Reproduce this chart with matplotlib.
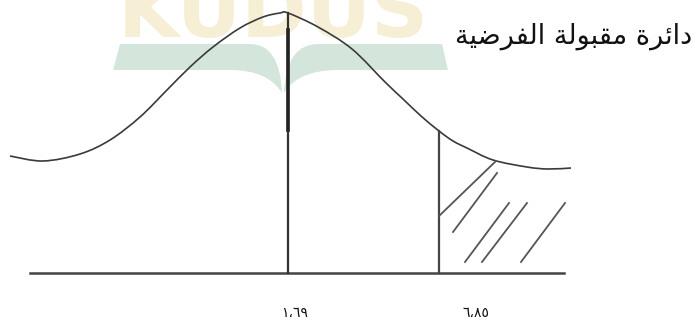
import matplotlib
matplotlib.use("Agg")
import matplotlib.pyplot as plt
from matplotlib.path import Path
from matplotlib.patches import PathPatch

# values (pixel-like units, y grows downward)
curve_x = [10, 43, 80, 110, 140, 167, 190, 213, 240, 263, 280, 288,
           318, 352, 385, 403, 421, 439, 453, 467, 493, 527, 548, 571]
curve_y = [156, 161, 154, 140, 117, 90, 67, 47, 28, 17, 13, 13,
           27, 49, 82, 99, 116, 131, 141, 148, 160, 167, 169, 168]

baseline_x = [30, 564]
baseline_y = 273

center_x = 288
center_top = 13
critical_x = 439
critical_top = 131

hatch_x0 = [439, 453, 465, 482, 521]
hatch_y0 = [216, 232, 262, 262, 262]
hatch_x1 = [496, 497, 509, 527, 565]
hatch_y1 = [161, 173, 203, 203, 203]

title = "دائرة مقبولة الفرضية"
tick_labels = ["١،٦٩", "٦،٨٥"]
tick_pos = [295, 476]

# Arabic presentation forms: isolated, final, initial, medial
FORMS = {
    "د": (0xFEA9, 0xFEAA), "ا": (0xFE8D, 0xFE8E), "ر": (0xFEAD, 0xFEAE),
    "ة": (0xFE93, 0xFE94), "و": (0xFEED, 0xFEEE),
    "ئ": (0xFE89, 0xFE8A, 0xFE8B, 0xFE8C), "م": (0xFEE1, 0xFEE2, 0xFEE3, 0xFEE4),
    "ق": (0xFED5, 0xFED6, 0xFED7, 0xFED8), "ب": (0xFE8F, 0xFE90, 0xFE91, 0xFE92),
    "ل": (0xFEDD, 0xFEDE, 0xFEDF, 0xFEE0), "ف": (0xFED1, 0xFED2, 0xFED3, 0xFED4),
    "ض": (0xFEBD, 0xFEBE, 0xFEBF, 0xFEC0), "ي": (0xFEF1, 0xFEF2, 0xFEF3, 0xFEF4),
}


def shape_arabic(text):
    """join letters with presentation forms, then reverse for left-to-right drawing"""
    out = []
    for i, ch in enumerate(text):
        if ch not in FORMS:
            out.append(ch)
            continue
        prev = text[i - 1] if i > 0 else ""
        nxt = text[i + 1] if i + 1 < len(text) else ""
        join_prev = prev in FORMS and len(FORMS[prev]) == 4
        join_next = len(FORMS[ch]) == 4 and nxt in FORMS
        f = FORMS[ch]
        if join_prev and join_next:
            code = f[3]
        elif join_prev:
            code = f[1]
        elif join_next:
            code = f[2]
        else:
            code = f[0]
        out.append(chr(code))
    return "".join(out)[::-1]


def smooth_path(xs, ys):
    """bezier path through the read points (catmull-rom style handles)"""
    pts = list(zip(xs, ys))
    verts = [pts[0]]
    codes = [Path.MOVETO]
    for i in range(len(pts) - 1):
        p0 = pts[i - 1] if i > 0 else pts[i]
        p1, p2 = pts[i], pts[i + 1]
        p3 = pts[i + 2] if i + 2 < len(pts) else pts[i + 1]
        c1 = (p1[0] + (p2[0] - p0[0]) / 6, p1[1] + (p2[1] - p0[1]) / 6)
        c2 = (p2[0] - (p3[0] - p1[0]) / 6, p2[1] - (p3[1] - p1[1]) / 6)
        verts += [c1, c2, p2]
        codes += [Path.CURVE4] * 3
    return Path(verts, codes)


def draw_watermark(ax):
    ax.text(118, 37, "KUDUS", fontsize=57, fontweight="bold", color="#f7eed6",
            ha="left", va="baseline", family="DejaVu Sans", zorder=0)
    green = "#d4e6dc"
    C, L, Q, X = Path.MOVETO, Path.LINETO, Path.CURVE3, Path.CLOSEPOLY
    left = Path([(120, 44), (250, 44), (280, 44), (282, 93), (268, 70), (230, 70),
                 (113, 70), (120, 44)],
                [C, L, Q, Q, Q, Q, L, X])
    right = Path([(442, 44), (318, 44), (286, 44), (284, 93), (298, 70), (338, 70),
                  (448, 70), (442, 44)],
                 [C, L, Q, Q, Q, Q, L, X])
    for p in (left, right):
        ax.add_patch(PathPatch(p, facecolor=green, edgecolor="none", zorder=0))


fig = plt.figure(figsize=(6.96, 3.23), dpi=100)
ax = fig.add_axes([0, 0, 1, 1])
ax.set_xlim(0, 696)
ax.set_ylim(323, 0)
ax.axis("off")

draw_watermark(ax)

ax.add_patch(PathPatch(smooth_path(curve_x, curve_y), facecolor="none",
                       edgecolor="#3a3a3a", lw=1.2, zorder=3))
ax.plot(baseline_x, [baseline_y, baseline_y], color="#444444", lw=1.8, zorder=3)
ax.plot([center_x, center_x], [center_top, baseline_y], color="#333333", lw=1.6, zorder=3)
ax.plot([center_x, center_x], [30, 130], color="#222222", lw=2.6, zorder=3)
ax.plot([critical_x, critical_x], [critical_top, baseline_y], color="#444444", lw=1.6, zorder=3)
for x0, y0, x1, y1 in zip(hatch_x0, hatch_y0, hatch_x1, hatch_y1):
    ax.plot([x0, x1], [y0, y1], color="#555555", lw=1.3, zorder=3)

ax.text(692, 36, shape_arabic(title), fontsize=19.5, ha="right", va="center",
        family="DejaVu Sans", color="#111111", zorder=4)
for pos, lab in zip(tick_pos, tick_labels):
    ax.text(pos, 313, lab, fontsize=10, ha="center", va="center",
            family="DejaVu Sans", color="#111111")

fig.savefig("out.png", dpi=100)
